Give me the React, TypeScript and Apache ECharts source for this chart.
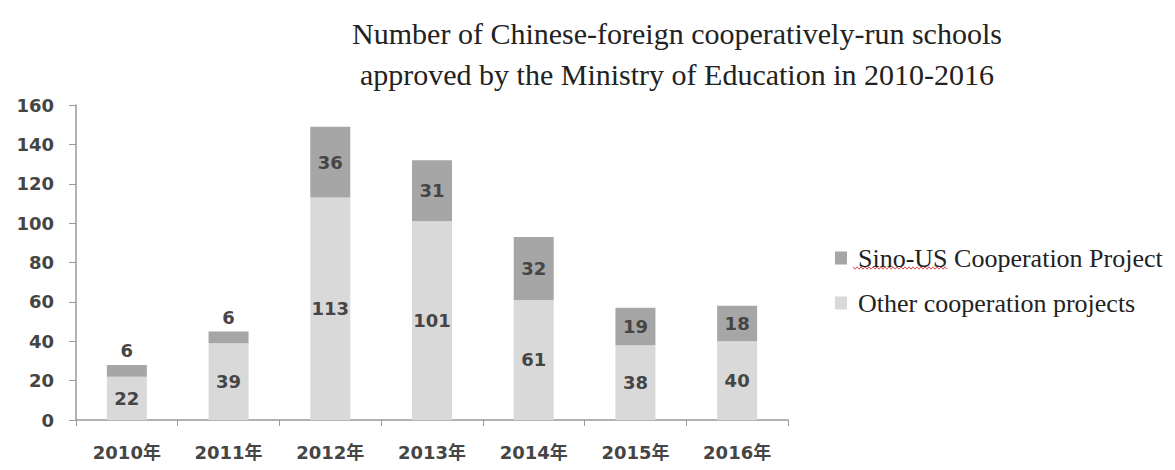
import React, { useEffect, useRef } from "react";
import * as echarts from "echarts";

const years = ["2010年", "2011年", "2012年", "2013年", "2014年", "2015年", "2016年"];
const otherProjects = [22, 39, 113, 101, 61, 38, 40];
const sinoUsProjects = [6, 6, 36, 31, 32, 19, 18];
const yTicks = { min: 0, max: 160, interval: 20 };

const titleText =
  "Number of Chinese-foreign cooperatively-run schools\napproved by the Ministry of Education in 2010-2016";

const labelFont = "'DejaVu Sans', 'Noto Sans CJK SC', sans-serif";
const serifFont = "'Liberation Serif', 'Times New Roman', serif";
const labelColor = "#454545";

// Wavy spell-check style underline beneath "Sino-US" in the legend
function wavyPoints(x0: number, x1: number, y: number, amp: number, step: number) {
  const pts: number[][] = [];
  let up = true;
  for (let x = x0; x <= x1; x += step) {
    pts.push([x, up ? y - amp : y + amp]);
    up = !up;
  }
  return pts;
}

export default function App() {
  const ref = useRef<HTMLDivElement>(null);

  useEffect(() => {
    if (!ref.current) return;
    const chart = echarts.init(ref.current, undefined, { renderer: "svg" });

    // Small segments get their label above the bar instead of inside it
    const sinoData = sinoUsProjects.map((v) =>
      v < 10
        ? { value: v, label: { position: "top" as const, distance: 5 } }
        : { value: v }
    );

    const barLabel = {
      show: true,
      position: "inside" as const,
      fontFamily: labelFont,
      fontWeight: "bold" as const,
      fontSize: 18,
      color: labelColor,
    };

    chart.setOption({
      animation: false,
      backgroundColor: "#ffffff",
      title: {
        text: titleText,
        left: 672,
        top: 8,
        textAlign: "center",
        textStyle: {
          fontFamily: serifFont,
          fontSize: 30,
          fontWeight: "normal",
          color: "#222222",
          lineHeight: 41,
        },
      },
      legend: {
        orient: "vertical",
        left: 830,
        top: 240,
        itemWidth: 12,
        itemHeight: 13,
        itemGap: 19,
        icon: "rect",
        data: [
          { name: "Sino-US Cooperation Project", itemStyle: { color: "#a6a6a6" } },
          { name: "Other cooperation projects", itemStyle: { color: "#d9d9d9" } },
        ],
        textStyle: {
          fontFamily: serifFont,
          fontSize: 26,
          color: "#222222",
          padding: [0, 0, 0, 6],
        },
      },
      graphic: [
        {
          type: "polyline",
          shape: { points: wavyPoints(853, 948, 268, 1.2, 2) },
          style: { stroke: "#d9534f", lineWidth: 1, fill: null },
          silent: true,
        },
      ],
      grid: { left: 76, right: 387, top: 105, bottom: 50 },
      xAxis: {
        type: "category",
        data: years,
        axisLine: { lineStyle: { color: "#9a9a9a", width: 1.5 } },
        axisTick: { show: true, alignWithLabel: false, length: 6, lineStyle: { color: "#9a9a9a" } },
        axisLabel: {
          fontFamily: labelFont,
          fontWeight: "bold",
          fontSize: 18,
          color: labelColor,
          margin: 23,
        },
      },
      yAxis: {
        type: "value",
        min: yTicks.min,
        max: yTicks.max,
        interval: yTicks.interval,
        splitLine: { show: false },
        axisLine: { show: true, lineStyle: { color: "#9a9a9a", width: 1.5 } },
        axisTick: { show: true, length: 7, lineStyle: { color: "#9a9a9a" } },
        axisLabel: {
          fontFamily: labelFont,
          fontWeight: "bold",
          fontSize: 18,
          color: labelColor,
          margin: 22,
        },
      },
      series: [
        {
          name: "Other cooperation projects",
          type: "bar",
          stack: "total",
          barWidth: 40,
          data: otherProjects,
          itemStyle: { color: "#d9d9d9" },
          label: barLabel,
        },
        {
          name: "Sino-US Cooperation Project",
          type: "bar",
          stack: "total",
          barWidth: 40,
          data: sinoData,
          itemStyle: { color: "#a6a6a6" },
          label: barLabel,
        },
      ],
    });

    return () => chart.dispose();
  }, []);

  return (
    <div
      ref={ref}
      style={{ position: "absolute", left: 0, top: 0, width: 1175, height: 470 }}
    />
  );
}
